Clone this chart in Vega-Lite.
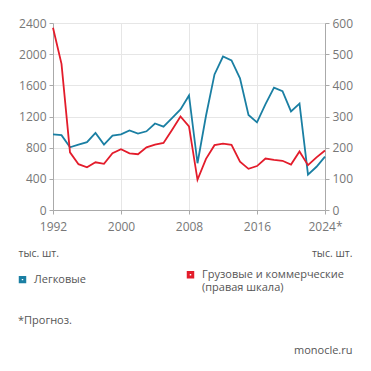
{
  "$schema": "https://vega.github.io/schema/vega-lite/v6.json",
  "width": 272,
  "height": 187,
  "autosize": {"type": "none"},
  "padding": {"left": 53, "top": 23, "right": 46, "bottom": 161},
  "background": "white",
  "config": {
    "font": "Open Sans",
    "view": {"stroke": null},
    "axis": {"labelColor": "#777", "labelFontSize": 12, "domainColor": "#aaa", "tickColor": "#aaa", "gridColor": "#e6e6e6", "titleColor": "#555", "titleFontWeight": "normal"}
  },
  "data": {"values": [
    {"year":1992,"series":"Легковые","value":970},{"year":1993,"series":"Легковые","value":960},{"year":1994,"series":"Легковые","value":805},{"year":1995,"series":"Легковые","value":840},{"year":1996,"series":"Легковые","value":870},{"year":1997,"series":"Легковые","value":990},{"year":1998,"series":"Легковые","value":840},{"year":1999,"series":"Легковые","value":955},{"year":2000,"series":"Легковые","value":970},{"year":2001,"series":"Легковые","value":1020},{"year":2002,"series":"Легковые","value":980},{"year":2003,"series":"Легковые","value":1010},{"year":2004,"series":"Легковые","value":1110},{"year":2005,"series":"Легковые","value":1070},{"year":2006,"series":"Легковые","value":1180},{"year":2007,"series":"Легковые","value":1290},{"year":2008,"series":"Легковые","value":1470},{"year":2009,"series":"Легковые","value":600},{"year":2010,"series":"Легковые","value":1210},{"year":2011,"series":"Легковые","value":1740},{"year":2012,"series":"Легковые","value":1970},{"year":2013,"series":"Легковые","value":1920},{"year":2014,"series":"Легковые","value":1690},{"year":2015,"series":"Легковые","value":1220},{"year":2016,"series":"Легковые","value":1125},{"year":2017,"series":"Легковые","value":1360},{"year":2018,"series":"Легковые","value":1570},{"year":2019,"series":"Легковые","value":1525},{"year":2020,"series":"Легковые","value":1265},{"year":2021,"series":"Легковые","value":1365},{"year":2022,"series":"Легковые","value":455},{"year":2023,"series":"Легковые","value":555},{"year":2024,"series":"Легковые","value":685},
    {"year":1992,"series":"Грузовые и коммерческие","value":585},{"year":1993,"series":"Грузовые и коммерческие","value":469},{"year":1994,"series":"Грузовые и коммерческие","value":185},{"year":1995,"series":"Грузовые и коммерческие","value":147},{"year":1996,"series":"Грузовые и коммерческие","value":137},{"year":1997,"series":"Грузовые и коммерческие","value":153},{"year":1998,"series":"Грузовые и коммерческие","value":148},{"year":1999,"series":"Грузовые и коммерческие","value":182},{"year":2000,"series":"Грузовые и коммерческие","value":195},{"year":2001,"series":"Грузовые и коммерческие","value":182},{"year":2002,"series":"Грузовые и коммерческие","value":179},{"year":2003,"series":"Грузовые и коммерческие","value":201},{"year":2004,"series":"Грузовые и коммерческие","value":210},{"year":2005,"series":"Грузовые и коммерческие","value":215},{"year":2006,"series":"Грузовые и коммерческие","value":257},{"year":2007,"series":"Грузовые и коммерческие","value":300},{"year":2008,"series":"Грузовые и коммерческие","value":268},{"year":2009,"series":"Грузовые и коммерческие","value":97},{"year":2010,"series":"Грузовые и коммерческие","value":164},{"year":2011,"series":"Грузовые и коммерческие","value":208},{"year":2012,"series":"Грузовые и коммерческие","value":213},{"year":2013,"series":"Грузовые и коммерческие","value":209},{"year":2014,"series":"Грузовые и коммерческие","value":155},{"year":2015,"series":"Грузовые и коммерческие","value":132},{"year":2016,"series":"Грузовые и коммерческие","value":141},{"year":2017,"series":"Грузовые и коммерческие","value":165},{"year":2018,"series":"Грузовые и коммерческие","value":161},{"year":2019,"series":"Грузовые и коммерческие","value":158},{"year":2020,"series":"Грузовые и коммерческие","value":146},{"year":2021,"series":"Грузовые и коммерческие","value":188},{"year":2022,"series":"Грузовые и коммерческие","value":144},{"year":2023,"series":"Грузовые и коммерческие","value":169},{"year":2024,"series":"Грузовые и коммерческие","value":191}
  ]},
  "title": {"text": "*Прогноз.", "orient": "bottom", "anchor": "start", "frame": "group", "fontSize": 11, "fontWeight": "normal", "color": "#555", "dx": -35, "offset": 0, "dy": -40, "baseline": "top"},
  "encoding": {
    "x": {"field": "year", "type": "quantitative", "scale": {"domain": [1992, 2024], "nice": false, "zero": false},
      "axis": {"values": [1992, 2000, 2008, 2016, 2024], "format": "d", "labelExpr": "datum.value == 2024 ? '2024*' : datum.label", "tickSize": 4, "labelPadding": 7, "labelFlush": false,
        "title": "monocle.ru", "titleFontSize": 11, "titleX": 299, "titleY": 140, "titleAlign": "right", "titleBaseline": "middle", "titleAnchor": null}},
    "color": {"field": "series", "type": "nominal", "scale": {"domain": ["Легковые", "Грузовые и коммерческие"], "range": ["#1a7fa3", "#e31c2b"]},
      "legend": {"title": null, "orient": "none", "legendX": -36, "legendY": 246, "direction": "horizontal", "columns": 2, "columnPadding": 96, "symbolType": "square", "symbolSize": 20, "symbolStrokeWidth": 3, "labelFontSize": 11, "labelColor": "#555", "labelLimit": 200, "labelBaseline": "middle", "labelOffset": 6,
        "labelExpr": "datum.label == 'Грузовые и коммерческие' ? ['Грузовые и коммерческие', '(правая шкала)'] : datum.label"}}
  },
  "layer": [
    {"transform": [{"filter": "datum.series == 'Легковые'"}],
     "mark": {"type": "line", "strokeWidth": 1.8},
     "encoding": {"y": {"field": "value", "type": "quantitative", "scale": {"domain": [0, 2400], "nice": false},
       "axis": {"values": [0, 400, 800, 1200, 1600, 2000, 2400], "format": "d", "tickSize": 4, "labelPadding": 3,
         "title": "тыс. шт.", "titleFontSize": 10.5, "titleAngle": 0, "titleX": -35, "titleY": 230, "titleAlign": "left", "titleBaseline": "middle"}}}},
    {"transform": [{"filter": "datum.series != 'Легковые'"}],
     "mark": {"type": "line", "strokeWidth": 1.8},
     "encoding": {"y": {"field": "value", "type": "quantitative", "scale": {"domain": [0, 600], "nice": false},
       "axis": {"orient": "right", "values": [0, 100, 200, 300, 400, 500, 600], "format": "d", "grid": false, "tickSize": 4, "labelPadding": 3,
         "title": "тыс. шт.", "titleFontSize": 10.5, "titleAngle": 0, "titleX": 27, "titleY": 230, "titleAlign": "right", "titleBaseline": "middle"}}}}
  ],
  "resolve": {"scale": {"y": "independent"}}
}
